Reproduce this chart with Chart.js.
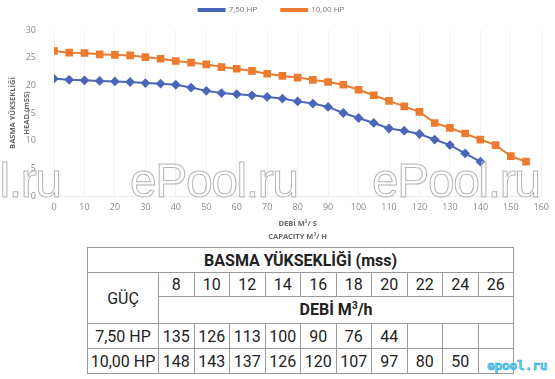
<!DOCTYPE html>
<html>
<head>
<meta charset="utf-8">
<script src="https://cdn.jsdelivr.net/npm/chart.js@4.4.1/dist/chart.umd.min.js"></script>
<style>
  html, body { margin: 0; padding: 0; background: #fff; }
  body { width: 555px; height: 379px; position: relative; overflow: hidden; font-family: "Open Sans", sans-serif; }
  #chartBox { position: absolute; left: 0; top: -18px; width: 555px; height: 264px; }
  .wm { position: absolute; top: 157px; font-family: "Liberation Sans", sans-serif; font-size: 48px; line-height: 1; color: transparent;
        -webkit-text-stroke: 1px #b5b5b5; letter-spacing: -1.4px; white-space: nowrap; }
  table.perf { position: absolute; left: 87px; top: 247px; border-collapse: collapse; table-layout: fixed; width: 426px;
               font-family: "Roboto", sans-serif; color: #222; }
  table.perf td { border: 1px solid #9a9a9a; text-align: center; padding: 0; font-size: 16px; white-space: nowrap; }
  table.perf td.head { font-weight: bold; font-size: 16px; }
  #logo { position: absolute; left: 487px; top: 358px; font-family: "DejaVu Sans Mono", monospace; font-size: 13px; font-weight: bold;
          color: #5fd0f5; -webkit-text-stroke: 0.5px #1b9fd6; letter-spacing: -0.3px; }
</style>
</head>
<body>
<div id="chartBox"><canvas id="pumpChart"></canvas></div>
<div class="wm" style="left:-107px">ePool.ru</div>
<div class="wm" style="left:130px">ePool.ru</div>
<div class="wm" style="left:372px">ePool.ru</div>
<table class="perf">
  <colgroup id="cols"></colgroup>
  <tbody id="perfBody"></tbody>
</table>
<div id="logo">epool.ru</div>
<script>
// curve data
const flow750 = [0, 5, 10, 15, 20, 25, 30, 35, 40, 45, 50, 55, 60, 65, 70, 75, 80, 85, 90, 95, 100, 105, 110, 115, 120, 125, 130, 135, 140];
const head750 = [21.2, 21.0, 20.9, 20.8, 20.7, 20.6, 20.4, 20.3, 20.1, 19.6, 19.0, 18.6, 18.4, 18.2, 17.9, 17.6, 17.1, 16.7, 16.1, 15.0, 14.1, 13.2, 12.2, 11.8, 11.2, 10.2, 9.2, 7.7, 6.2];
const flow1000 = [0, 5, 10, 15, 20, 25, 30, 35, 40, 45, 50, 55, 60, 65, 70, 75, 80, 85, 90, 95, 100, 105, 110, 115, 120, 125, 130, 135, 140, 145, 150, 155];
const head1000 = [26.2, 25.9, 25.85, 25.6, 25.5, 25.4, 25.1, 24.8, 24.4, 24.1, 23.8, 23.3, 23.0, 22.6, 22.1, 21.7, 21.4, 21.0, 20.6, 20.1, 19.2, 18.2, 17.2, 16.2, 15.2, 13.2, 12.3, 11.3, 10.2, 9.2, 7.2, 6.2];

// table below the chart
const tableHeads = [8, 10, 12, 14, 16, 18, 20, 22, 24, 26];
const table750 = [135, 126, 113, 100, 90, 76, 44, '', '', ''];
const table1000 = [148, 143, 137, 126, 120, 107, 97, 80, 50, ''];

const toPoints = (xs, ys) => xs.map((x, i) => ({ x: x, y: ys[i] }));

const tickFont = { family: 'Open Sans', size: 9 };
const titleFont = { family: 'Open Sans', size: 7.5, weight: 'bold' };

// keep the legend from pushing the plot down too far
const legendHeight = {
    id: 'legendHeight',
    beforeInit(chart) {
        const fit = chart.legend.fit;
        chart.legend.fit = function () {
            fit.bind(chart.legend)();
            this.height = 48;
        };
    }
};

new Chart(document.getElementById('pumpChart'), {
    type: 'line',
    data: {
        datasets: [{
            label: '7,50 HP',
            data: toPoints(flow750, head750),
            borderColor: '#4a66b8',
            backgroundColor: '#4a66b8',
            borderWidth: 2,
            pointStyle: 'rectRot',
            pointRadius: 3.5,
            tension: 0
        }, {
            label: '10,00 HP',
            data: toPoints(flow1000, head1000),
            borderColor: '#ec7b30',
            backgroundColor: '#ec7b30',
            borderWidth: 2,
            pointStyle: 'rect',
            pointRadius: 4,
            tension: 0
        }]
    },
    options: {
        responsive: true,
        maintainAspectRatio: false,
        animation: false,
        layout: { padding: { left: 0, right: 12, top: 0, bottom: 0 } },
        plugins: {
            legend: {
                position: 'top',
                labels: { boxWidth: 26, boxHeight: 2, color: '#777', font: { family: 'Open Sans', size: 8 }, padding: 24 }
            },
            tooltip: { enabled: false }
        },
        scales: {
            x: {
                type: 'linear', min: 0, max: 160,
                afterFit: (scale) => { scale.height = 50; },
                ticks: { stepSize: 10, color: '#8a8a8a', font: tickFont, padding: 6 },
                grid: { color: 'rgba(0,0,0,0.05)', drawTicks: false },
                border: { display: true, color: 'rgba(0,0,0,0.08)' },
                title: { display: true, text: ['DEBİ M³/ S', 'CAPACITY M³/ H'], color: '#666', font: { ...titleFont, lineHeight: 1.73 }, padding: { top: 0, bottom: 2.5 } }
            },
            y: {
                min: 0, max: 30,
                afterFit: (scale) => { scale.width = 54; },
                ticks: { stepSize: 5, color: '#8a8a8a', font: tickFont, padding: 10 },
                grid: { display: false },
                border: { display: false },
                title: { display: true, text: ['BASMA YÜKSEKLİĞİ', 'HEAD (mSS)'], color: '#666', font: { ...titleFont, lineHeight: 1.87 }, padding: { top: 6, bottom: 0 } }
            }
        }
    },
    plugins: [legendHeight]
});

// build table
document.getElementById('cols').innerHTML = '<col style="width:71px">' + tableHeads.map(() => '<col style="width:35.5px">').join('');
let rows = '<tr style="height:25px"><td class="head" colspan="11">BASMA YÜKSEKLİĞİ (mss)</td></tr>';
rows += '<tr style="height:24px"><td rowspan="2">GÜÇ</td>' + tableHeads.map(h => '<td>' + h + '</td>').join('') + '</tr>';
rows += '<tr style="height:27px"><td class="head" colspan="10">DEBİ M<sup style="font-size:10px">3</sup>/h</td></tr>';
rows += '<tr style="height:25px"><td>7,50 HP</td>' + table750.map(v => '<td>' + v + '</td>').join('') + '</tr>';
rows += '<tr style="height:25px"><td>10,00 HP</td>' + table1000.map(v => '<td>' + v + '</td>').join('') + '</tr>';
document.getElementById('perfBody').innerHTML = rows;
</script>
</body>
</html>
